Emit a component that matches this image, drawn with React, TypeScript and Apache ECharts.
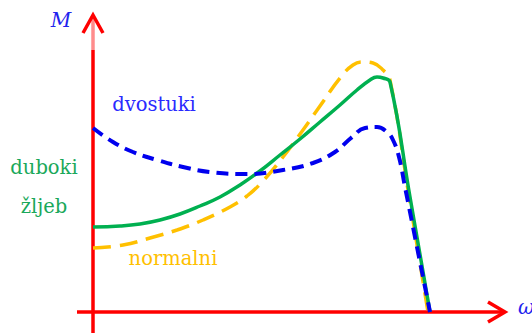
import React, { useEffect, useRef } from "react";
import * as echarts from "echarts";

// Curves (x: speed units from origin, y: torque units from origin)
const dvostuki: number[][] = [
  [0, 184], [20, 170], [40, 160], [64, 152], [90, 145], [117, 140], [154, 138],
  [190, 142], [220, 149], [242, 160], [258, 174], [272, 184], [284, 185], [294, 180],
  [300, 172], [306, 155], [312, 125], [337, 0],
];
const dubokiZljeb: number[][] = [
  [0, 85], [27, 86], [47, 88], [67, 92], [87, 98], [107, 106], [127, 115], [147, 127],
  [167, 141], [187, 157], [207, 173], [227, 190], [247, 207], [264, 222], [277, 232],
  [284, 235], [290, 234], [297, 230], [317, 115], [337, 0],
];
const normalni: number[][] = [
  [0, 64], [30, 67], [57, 74], [84, 82], [110, 92], [137, 105], [154, 116],
  [170, 131], [190, 155], [210, 182], [227, 206], [247, 234], [260, 247], [270, 250],
  [280, 249], [290, 242], [297, 232], [316, 116], [335, 0],
];

const X_MAX = 412;
const Y_MAX = 300;

const RED = "#ff0000";
const GREEN = "#00b050";
const BLUE = "#0000ee";
const YELLOW = "#ffc000";
const SERIF = "DejaVu Serif";

export default function App() {
  const ref = useRef<HTMLDivElement>(null);
  useEffect(() => {
    if (!ref.current) return;
    const chart = echarts.init(ref.current, null, { renderer: "svg" });
    const line = (name: string, data: number[][], color: string, dash: any, width: number, z: number) => ({
      name,
      type: "line",
      data,
      smooth: 0.45,
      showSymbol: false,
      z,
      lineStyle: { color, width, type: dash, cap: "butt" },
    });
    chart.setOption({
      animation: false,
      grid: { left: 93, right: 27, top: 12, bottom: 21 },
      xAxis: { type: "value", min: 0, max: X_MAX, show: false },
      yAxis: { type: "value", min: 0, max: Y_MAX, show: false },
      series: [
        line("normalni", normalni, YELLOW, [18, 9], 3.5, 3),
        line("duboki žljeb", dubokiZljeb, GREEN, "solid", 3.5, 4),
        line("dvostuki", dvostuki, BLUE, [12, 7], 4, 5),
      ],
    });
    const [ox, oy] = chart.convertToPixel({ gridIndex: 0 }, [0, 0]) as number[];
    const [xe] = chart.convertToPixel({ gridIndex: 0 }, [X_MAX, 0]) as number[];
    const yTop = 15;
    const axisStyle = { stroke: RED, lineWidth: 3.5, fill: null };
    const txt = (text: string, x: number, y: number, fill: string, size: number, italic: boolean, align = "center") => ({
      type: "text",
      z: 10,
      x,
      y,
      style: {
        text,
        fill,
        fontFamily: SERIF,
        fontSize: size,
        fontStyle: italic ? "italic" : "normal",
        align,
        verticalAlign: "middle",
      },
    });
    chart.setOption({
      graphic: [
        { type: "line", z: 1, shape: { x1: ox - 16, y1: oy, x2: xe, y2: oy }, style: axisStyle },
        { type: "polyline", z: 1, shape: { points: [[xe - 17, oy - 10], [xe, oy], [xe - 17, oy + 10]] }, style: { ...axisStyle, lineJoin: "miter" } },
        { type: "line", z: 1, shape: { x1: ox, y1: 333, x2: ox, y2: 50 }, style: axisStyle },
        { type: "line", z: 1, shape: { x1: ox, y1: 50, x2: ox, y2: yTop + 2 }, style: { ...axisStyle, stroke: "rgba(255,0,0,0.45)" } },
        { type: "polyline", z: 1, shape: { points: [[ox - 10, yTop + 18], [ox, yTop], [ox + 10, yTop + 18]] }, style: { ...axisStyle, lineJoin: "miter" } },
        txt("M", 61, 20, "#2222ee", 20, true),
        txt("ω", 518, 307, "#2222ee", 20, true, "left"),
        txt("dvostuki", 154, 104, "#2a2aff", 19.5, false),
        txt("duboki", 44, 167, "#1aa85a", 19.5, false),
        txt("žljeb", 44, 206, "#1aa85a", 19.5, false),
        txt("normalni", 173, 258, YELLOW, 19.5, false),
      ],
    });
    return () => chart.dispose();
  }, []);
  return (
    <div
      ref={ref}
      style={{ position: "absolute", left: 0, top: 0, width: 532, height: 333, background: "#fff" }}
    />
  );
}
